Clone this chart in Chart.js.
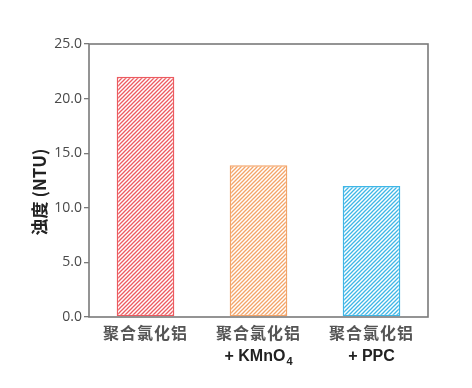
<!DOCTYPE html>
<html><head><meta charset="utf-8">
<script src="https://cdn.jsdelivr.net/npm/chart.js@4/dist/chart.umd.min.js"></script>
<style>html,body{margin:0;padding:0;background:#fff;}#wrap{width:472px;height:388px;}</style>
</head><body><div id="wrap"><canvas id="c" width="472" height="388"></canvas></div>
<script>
const categories = ["聚合氯化铝", "聚合氯化铝", "聚合氯化铝"];
const subLabels = ["", "+ KMnO", "+ PPC"];
const subScripts = ["", "4", ""];
const turbidity = [22.0, 13.9, 12.0];
const yTicks = [0, 5, 10, 15, 20, 25];
const yTitle = "浊度 (NTU)";
const strokeColors = ["#ec5b60", "#f3a468", "#3fb6e6"];

function hatch(color) {
  const s = 4;
  const c = document.createElement('canvas');
  c.width = s; c.height = s;
  const x = c.getContext('2d');
  x.fillStyle = '#fff';
  x.fillRect(0, 0, s, s);
  x.strokeStyle = color;
  x.lineWidth = 1.3;
  x.beginPath();
  x.moveTo(0, s); x.lineTo(s, 0);
  x.moveTo(-1, 1); x.lineTo(1, -1);
  x.moveTo(s - 1, s + 1); x.lineTo(s + 1, s - 1);
  x.stroke();
  return x.createPattern(c, 'repeat');
}

const framePlugin = {
  id: 'frame',
  afterDraw(chart) {
    const ctx = chart.ctx, a = chart.chartArea;
    ctx.save();
    ctx.strokeStyle = '#7a7a7a';
    ctx.lineWidth = 1.6;
    ctx.strokeRect(a.left, a.top, a.right - a.left, a.bottom - a.top);
    const xs = chart.scales.x;
    ctx.textBaseline = 'middle';
    categories.forEach((t, i) => {
      const px = xs.getPixelForTick(i);
      ctx.textAlign = 'center';
      ctx.fillStyle = '#555';
      ctx.font = 'bold 16px "Noto Sans CJK SC"';
      ctx.letterSpacing = '1px';
      ctx.fillText(t, px, 333);
      ctx.letterSpacing = '0px';
      if (subLabels[i]) {
        ctx.fillStyle = '#222';
        const mainFont = 'bold 16px "Liberation Sans", Arial, sans-serif';
        const subFont = 'bold 11px "Liberation Sans", Arial, sans-serif';
        ctx.font = mainFont;
        const w1 = ctx.measureText(subLabels[i]).width;
        let w2 = 0;
        if (subScripts[i]) { ctx.font = subFont; w2 = ctx.measureText(subScripts[i]).width + 1; }
        const x0 = px - (w1 + w2) / 2;
        ctx.textAlign = 'left';
        ctx.font = mainFont;
        ctx.fillText(subLabels[i], x0, 357);
        if (subScripts[i]) {
          ctx.font = subFont;
          ctx.fillText(subScripts[i], x0 + w1 + 1, 362);
        }
      }
    });
    ctx.textAlign = 'center';
    ctx.translate(40, 192);
    ctx.rotate(-Math.PI / 2);
    ctx.fillStyle = '#222';
    ctx.font = 'bold 17px "Noto Sans CJK SC", "Liberation Sans"';
    ctx.fillText(yTitle, 0, 0);
    ctx.restore();
  }
};

new Chart(document.getElementById('c'), {
  type: 'bar',
  data: {
    labels: categories,
    datasets: [{
      data: turbidity,
      backgroundColor: strokeColors.map(hatch),
      borderColor: strokeColors,
      borderWidth: 1.5,
      borderSkipped: false,
      categoryPercentage: 1,
      barPercentage: 0.51
    }]
  },
  options: {
    responsive: false,
    animation: false,
    devicePixelRatio: 1,
    layout: { padding: { left: 0, right: 44, top: 44, bottom: 0 } },
    plugins: { legend: { display: false }, tooltip: { enabled: false } },
    scales: {
      x: {
        grid: { display: false },
        border: { display: false },
        ticks: { display: false },
        afterFit(s) { s.height = 71; }
      },
      y: {
        min: 0, max: 25,
        afterBuildTicks(s) { s.ticks = yTicks.map(v => ({ value: v })); },
        grid: { drawOnChartArea: false, tickLength: 5, color: '#7a7a7a', lineWidth: 1.3 },
        border: { display: false },
        ticks: {
          color: '#4a4a4a',
          padding: 2,
          font: { family: '"Open Sans", "Liberation Sans"', size: 14 },
          callback: v => Number(v).toFixed(1)
        },
        afterFit(s) { s.width = 89; }
      }
    }
  },
  plugins: [framePlugin]
});
</script></body></html>
